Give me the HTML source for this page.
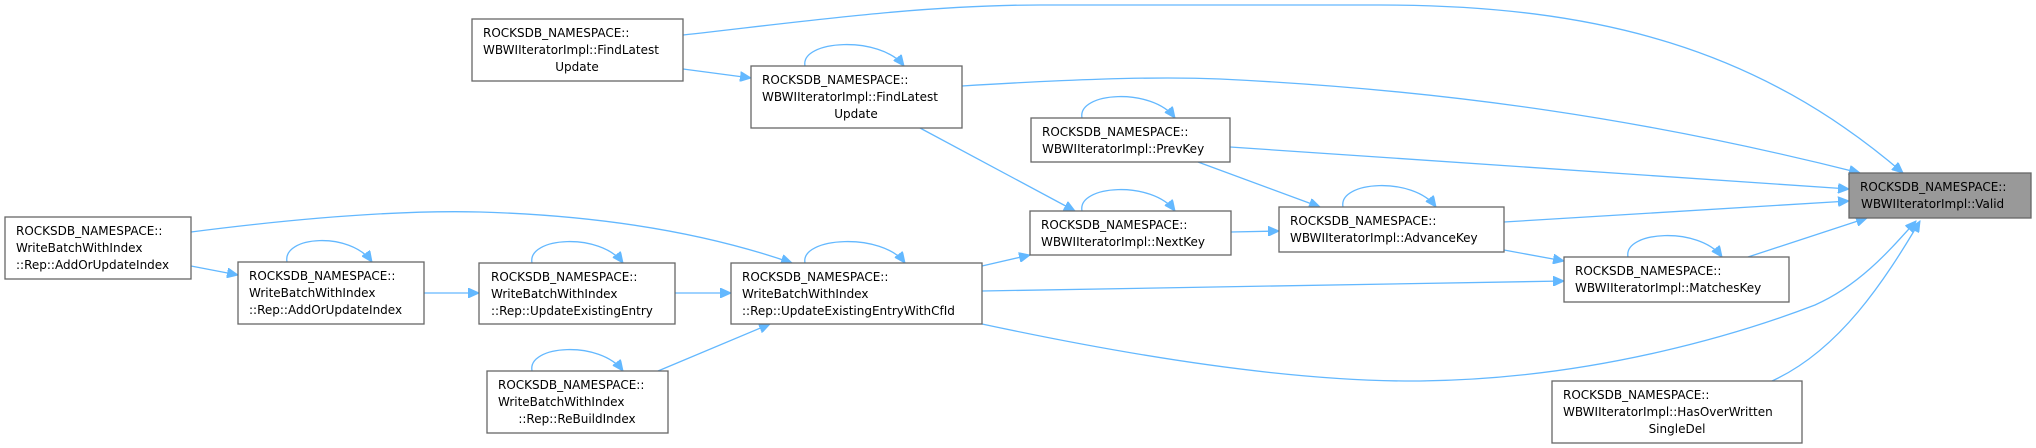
<!DOCTYPE html>
<html><head><meta charset="utf-8"><style>
html,body{margin:0;padding:0;background:#fff;}
svg{display:block;}
text{font-family:"DejaVu Sans","Liberation Sans",sans-serif;font-size:12px;fill:#000;}
.b{fill:#fff;stroke:#666;stroke-width:1.3;}
.e{fill:none;stroke:#63b8ff;stroke-width:1.3;}
</style></head><body>
<svg width="2036" height="448" viewBox="0 0 2036 448" xmlns="http://www.w3.org/2000/svg">
<defs>
<marker id="a" markerUnits="userSpaceOnUse" markerWidth="12" markerHeight="10" refX="11" refY="5" orient="auto">
<path d="M0,0 L11,5 L0,10 z" fill="#63b8ff" stroke="#63b8ff"/>
</marker>
</defs>
<g class="e">
<path marker-end="url(#a)" d="M683,35 C800,22 920,5 1040,5 L1380,5 C1600,5 1760,50 1903,173"/>
<path marker-end="url(#a)" d="M683,69 L751,78"/>
<path marker-end="url(#a)" d="M962,86 C1060,80 1150,76 1220,79 C1450,90 1650,120 1860,173"/>
<path marker-end="url(#a)" d="M920,128 L1075,211"/>
<path marker-end="url(#a)" d="M1230,147 L1849,189"/>
<path marker-end="url(#a)" d="M1198,162 L1320,207"/>
<path marker-end="url(#a)" d="M1231,232 L1279,231"/>
<path marker-end="url(#a)" d="M1504,222 L1849,201"/>
<path marker-end="url(#a)" d="M1504,250 L1564,261"/>
<path marker-end="url(#a)" d="M1748,257 L1867,218"/>
<path marker-end="url(#a)" d="M982,324 C1150,360 1300,382 1420,381 C1600,379 1750,330 1815,305 C1860,285 1890,250 1916,221"/>
<path marker-end="url(#a)" d="M1772,381 C1840,350 1885,280 1920,221"/>
<path marker-end="url(#a)" d="M982,291 L1564,281"/>
<path marker-end="url(#a)" d="M982,266 L1030,255"/>
<path marker-end="url(#a)" d="M191,232 C300,218 400,210 480,212 C620,216 720,238 792,263"/>
<path marker-end="url(#a)" d="M191,266 L238,275"/>
<path marker-end="url(#a)" d="M424,293 L479,293"/>
<path marker-end="url(#a)" d="M675,293 L731,293"/>
<path marker-end="url(#a)" d="M658,371 L770,324"/>
<path marker-end="url(#a)" d="M805,66 C800,40 880,35 904,66"/>
<path marker-end="url(#a)" d="M1082,118 C1077,92 1152,87 1175,118"/>
<path marker-end="url(#a)" d="M1082,211 C1077,185 1152,180 1175,211"/>
<path marker-end="url(#a)" d="M1343,207 C1338,181 1413,176 1436,207"/>
<path marker-end="url(#a)" d="M1628,257 C1623,231 1699,226 1722,257"/>
<path marker-end="url(#a)" d="M287,262 C282,236 350,231 372,262"/>
<path marker-end="url(#a)" d="M532,263 C527,237 600,232 623,263"/>
<path marker-end="url(#a)" d="M805,263 C800,237 882,232 905,263"/>
<path marker-end="url(#a)" d="M532,371 C527,345 600,340 623,371"/>
</g>
<rect class="b" x="472" y="19" width="211" height="62"/>
<text x="483" y="37">ROCKSDB_NAMESPACE::</text><text x="483" y="54">WBWIIteratorImpl::FindLatest</text><text x="577" y="71" text-anchor="middle">Update</text>
<rect class="b" x="751" y="66" width="211" height="62"/>
<text x="762" y="84">ROCKSDB_NAMESPACE::</text><text x="762" y="101">WBWIIteratorImpl::FindLatest</text><text x="856" y="118" text-anchor="middle">Update</text>
<rect class="b" x="1031" y="118" width="199" height="44"/>
<text x="1042" y="136">ROCKSDB_NAMESPACE::</text><text x="1042" y="153">WBWIIteratorImpl::PrevKey</text>
<rect class="b" x="1030" y="211" width="201" height="44"/>
<text x="1041" y="229">ROCKSDB_NAMESPACE::</text><text x="1041" y="246">WBWIIteratorImpl::NextKey</text>
<rect class="b" x="1279" y="207" width="225" height="45"/>
<text x="1290" y="225">ROCKSDB_NAMESPACE::</text><text x="1290" y="242">WBWIIteratorImpl::AdvanceKey</text>
<rect x="1849" y="173" width="182" height="45" fill="#999" stroke="#666" stroke-width="1.3"/>
<text x="1860" y="191">ROCKSDB_NAMESPACE::</text><text x="1861" y="208">WBWIIteratorImpl::Valid</text>
<rect class="b" x="1564" y="257" width="225" height="45"/>
<text x="1575" y="275">ROCKSDB_NAMESPACE::</text><text x="1575" y="292">WBWIIteratorImpl::MatchesKey</text>
<rect class="b" x="1552" y="381" width="250" height="62"/>
<text x="1563" y="399">ROCKSDB_NAMESPACE::</text><text x="1563" y="416">WBWIIteratorImpl::HasOverWritten</text><text x="1677" y="433" text-anchor="middle">SingleDel</text>
<rect class="b" x="5" y="217" width="186" height="62"/>
<text x="16" y="235">ROCKSDB_NAMESPACE::</text><text x="16" y="252">WriteBatchWithIndex</text><text x="16" y="269">::Rep::AddOrUpdateIndex</text>
<rect class="b" x="238" y="262" width="186" height="62"/>
<text x="249" y="280">ROCKSDB_NAMESPACE::</text><text x="249" y="297">WriteBatchWithIndex</text><text x="249" y="314">::Rep::AddOrUpdateIndex</text>
<rect class="b" x="479" y="263" width="196" height="61"/>
<text x="491" y="281">ROCKSDB_NAMESPACE::</text><text x="491" y="298">WriteBatchWithIndex</text><text x="491" y="315">::Rep::UpdateExistingEntry</text>
<rect class="b" x="731" y="263" width="251" height="61"/>
<text x="742" y="281">ROCKSDB_NAMESPACE::</text><text x="742" y="298">WriteBatchWithIndex</text><text x="742" y="315">::Rep::UpdateExistingEntryWithCfId</text>
<rect class="b" x="487" y="371" width="181" height="62"/>
<text x="498" y="389">ROCKSDB_NAMESPACE::</text><text x="498" y="406">WriteBatchWithIndex</text><text x="577" y="423" text-anchor="middle">::Rep::ReBuildIndex</text>
</svg>
</body></html>
